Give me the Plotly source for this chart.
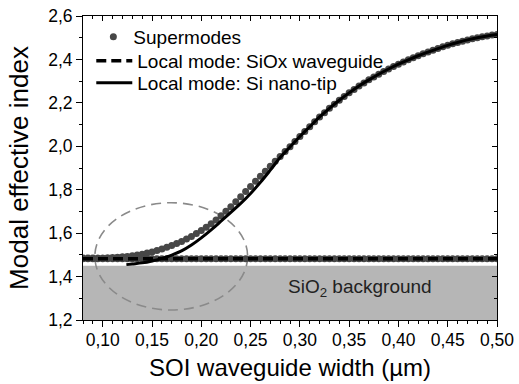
import plotly.graph_objects as go

# ---- data ----
width_um = [0.080, 0.085, 0.090, 0.095, 0.100, 0.105, 0.110, 0.115, 0.120, 0.125,
            0.130, 0.135, 0.140, 0.145, 0.150, 0.155, 0.160, 0.165, 0.170, 0.175,
            0.180, 0.185, 0.190, 0.195, 0.200, 0.205, 0.210, 0.215, 0.220, 0.225,
            0.230, 0.235, 0.240, 0.245, 0.250, 0.255, 0.260, 0.265, 0.270, 0.275,
            0.280, 0.285, 0.290, 0.295, 0.300, 0.305, 0.310, 0.315, 0.320, 0.325,
            0.330, 0.335, 0.340, 0.345, 0.350, 0.355, 0.360, 0.365, 0.370, 0.375,
            0.380, 0.385, 0.390, 0.395, 0.400, 0.405, 0.410, 0.415, 0.420, 0.425,
            0.430, 0.435, 0.440, 0.445, 0.450, 0.455, 0.460, 0.465, 0.470, 0.475,
            0.480, 0.485, 0.490, 0.495, 0.500]

supermode_upper = [1.485, 1.485, 1.485, 1.486, 1.486, 1.487, 1.488, 1.489, 1.491, 1.493,
                   1.496, 1.499, 1.503, 1.508, 1.513, 1.520, 1.527, 1.535, 1.543, 1.552,
                   1.562, 1.573, 1.585, 1.598, 1.612, 1.627, 1.643, 1.661, 1.680, 1.701,
                   1.722, 1.745, 1.768, 1.792, 1.815, 1.839, 1.862, 1.885, 1.908, 1.931,
                   1.953, 1.976, 1.998, 2.022, 2.045, 2.068, 2.090, 2.113, 2.135, 2.155,
                   2.175, 2.194, 2.212, 2.229, 2.246, 2.262, 2.278, 2.292, 2.306, 2.319,
                   2.332, 2.344, 2.356, 2.367, 2.378, 2.388, 2.398, 2.408, 2.417, 2.426,
                   2.434, 2.442, 2.450, 2.458, 2.465, 2.472, 2.478, 2.484, 2.490, 2.495,
                   2.500, 2.504, 2.508, 2.512, 2.515]

supermode_lower = [1.482, 1.482, 1.482, 1.482, 1.482, 1.482, 1.482, 1.482, 1.482, 1.482,
                   1.482, 1.482, 1.482, 1.482, 1.482, 1.482, 1.482, 1.482, 1.482, 1.482,
                   1.482, 1.482, 1.482, 1.482, 1.482, 1.482, 1.482, 1.482, 1.482, 1.482,
                   1.482, 1.482, 1.482, 1.482, 1.482, 1.482, 1.482, 1.482, 1.482, 1.482,
                   1.482, 1.482, 1.482, 1.482, 1.482, 1.482, 1.482, 1.482, 1.482, 1.482,
                   1.482, 1.482, 1.482, 1.482, 1.482, 1.482, 1.482, 1.482, 1.482, 1.482,
                   1.482, 1.482, 1.482, 1.482, 1.482, 1.482, 1.482, 1.482, 1.482, 1.482,
                   1.482, 1.482, 1.482, 1.482, 1.482, 1.482, 1.482, 1.482, 1.482, 1.482,
                   1.482, 1.482, 1.482, 1.482, 1.482]

siox_x = [0.08, 0.50]
siox_n = [1.482, 1.482]

tip_x = [0.124, 0.13, 0.14, 0.15, 0.16, 0.17, 0.18, 0.19, 0.20, 0.21, 0.22, 0.23,
         0.24, 0.25, 0.26, 0.27, 0.28, 0.29, 0.30, 0.31, 0.32, 0.33, 0.34, 0.35,
         0.36, 0.37, 0.38, 0.39, 0.40, 0.41, 0.42, 0.43, 0.44, 0.45, 0.46, 0.47,
         0.48, 0.49, 0.50]
tip_n = [1.455, 1.458, 1.463, 1.472, 1.484, 1.499, 1.518, 1.545, 1.578, 1.615, 1.655, 1.696,
         1.737, 1.783, 1.834, 1.890, 1.948, 1.997, 2.045, 2.090, 2.135, 2.175, 2.212, 2.246,
         2.278, 2.306, 2.332, 2.356, 2.378, 2.398, 2.417, 2.434, 2.450, 2.465, 2.478, 2.490,
         2.500, 2.508, 2.515]

sio2_index = 1.45

x_tick_vals = [0.10, 0.15, 0.20, 0.25, 0.30, 0.35, 0.40, 0.45, 0.50]
x_tick_text = ["0,10", "0,15", "0,20", "0,25", "0,30", "0,35", "0,40", "0,45", "0,50"]
y_tick_vals = [1.2, 1.4, 1.6, 1.8, 2.0, 2.2, 2.4, 2.6]
y_tick_text = ["1,2", "1,4", "1,6", "1,8", "2,0", "2,2", "2,4", "2,6"]

X_RANGE = [0.08, 0.50]
Y_RANGE = [1.2, 2.6]

FONT = "Liberation Sans, Arial, sans-serif"
DOT = "#474747"

fig = go.Figure()

fig.add_trace(go.Scatter(x=width_um, y=supermode_lower, mode="markers",
                         marker=dict(size=7, color=DOT), showlegend=False,
                         hoverinfo="skip"))
fig.add_trace(go.Scatter(x=width_um, y=supermode_upper, mode="markers",
                         marker=dict(size=7, color=DOT), name="Supermodes",
                         legend="legend"))
fig.add_trace(go.Scatter(x=siox_x, y=siox_n, mode="lines",
                         line=dict(color="black", width=3.5, dash="10px,5px"),
                         name="Local mode: SiOx waveguide", legend="legend2"))
fig.add_trace(go.Scatter(x=tip_x, y=tip_n, mode="lines",
                         line=dict(color="black", width=3, shape="spline"),
                         name="Local mode: Si nano-tip", legend="legend3"))
# invisible trace to carry the mirrored (top/right) axes
fig.add_trace(go.Scatter(x=X_RANGE, y=Y_RANGE, xaxis="x2", yaxis="y2",
                         mode="markers", marker=dict(opacity=0),
                         showlegend=False, hoverinfo="skip"))

# SiO2 background band and dashed ellipse
fig.add_shape(type="rect", xref="x", yref="y", x0=X_RANGE[0], x1=X_RANGE[1],
              y0=Y_RANGE[0], y1=sio2_index, fillcolor="#b6b6b6",
              line=dict(width=0), layer="below")
fig.add_shape(type="circle", xref="x", yref="y", x0=0.092, x1=0.247,
              y0=1.246, y1=1.740, line=dict(color="#8a8a8a", width=1.6, dash="10px,6px"),
              layer="below")

fig.add_annotation(x=0.361, y=1.347, xref="x", yref="y",
                   text="SiO<sub>2</sub> background", showarrow=False,
                   font=dict(family=FONT, size=19, color="#222222"))

axis_common = dict(showline=True, linecolor="black", linewidth=1, showgrid=False,
                   zeroline=False, ticks="outside", ticklen=6, tickwidth=1,
                   tickcolor="black", automargin=False,
                   tickfont=dict(family=FONT, size=17.5, color="black"))

legend_common = dict(xanchor="left", yanchor="middle", bgcolor="rgba(0,0,0,0)",
                     font=dict(family=FONT, size=19, color="black"), tracegroupgap=0)

fig.update_layout(
    width=519, height=384,
    margin=dict(l=83, r=22, t=16, b=64),
    paper_bgcolor="white", plot_bgcolor="white",
    font=dict(family=FONT, color="black"),
    xaxis=dict(range=X_RANGE, tickmode="array", tickvals=x_tick_vals, ticktext=x_tick_text,
               minor=dict(tickmode="linear", tick0=0, dtick=0.01, ticks="outside",
                          ticklen=3, tickcolor="black"),
               ticklabelstandoff=-2,
               title=dict(text="SOI waveguide width (µm)", font=dict(family=FONT, size=24),
                          standoff=10),
               **axis_common),
    yaxis=dict(range=Y_RANGE, tickmode="array", tickvals=y_tick_vals, ticktext=y_tick_text,
               minor=dict(tickmode="linear", tick0=0, dtick=0.1, ticks="outside",
                          ticklen=3, tickcolor="black"),
               title=dict(text="Modal effective index", font=dict(family=FONT, size=26),
                          standoff=12),
               **axis_common),
    xaxis2=dict(range=X_RANGE, overlaying="x", side="top", anchor="y2",
                showline=True, linecolor="black", linewidth=1, showgrid=False,
                zeroline=False, ticks="inside", ticklen=5, tickcolor="black",
                tickmode="array", tickvals=x_tick_vals, showticklabels=False,
                automargin=False,
                minor=dict(tickmode="linear", tick0=0, dtick=0.01, ticks="inside",
                           ticklen=3, tickcolor="black")),
    yaxis2=dict(range=Y_RANGE, overlaying="y", side="right", anchor="x2",
                showline=True, linecolor="black", linewidth=1, showgrid=False,
                zeroline=False, ticks="inside", ticklen=5, tickcolor="black",
                tickmode="array", tickvals=y_tick_vals, showticklabels=False,
                automargin=False,
                minor=dict(tickmode="linear", tick0=0, dtick=0.1, ticks="inside",
                           ticklen=3, tickcolor="black")),
    legend=dict(x=0.025, y=0.931, itemwidth=30, **legend_common),
    legend2=dict(x=0.02, y=0.852, itemwidth=36, **legend_common),
    legend3=dict(x=0.02, y=0.780, itemwidth=36, **legend_common),
    showlegend=True,
)

fig.write_html("out.html")
